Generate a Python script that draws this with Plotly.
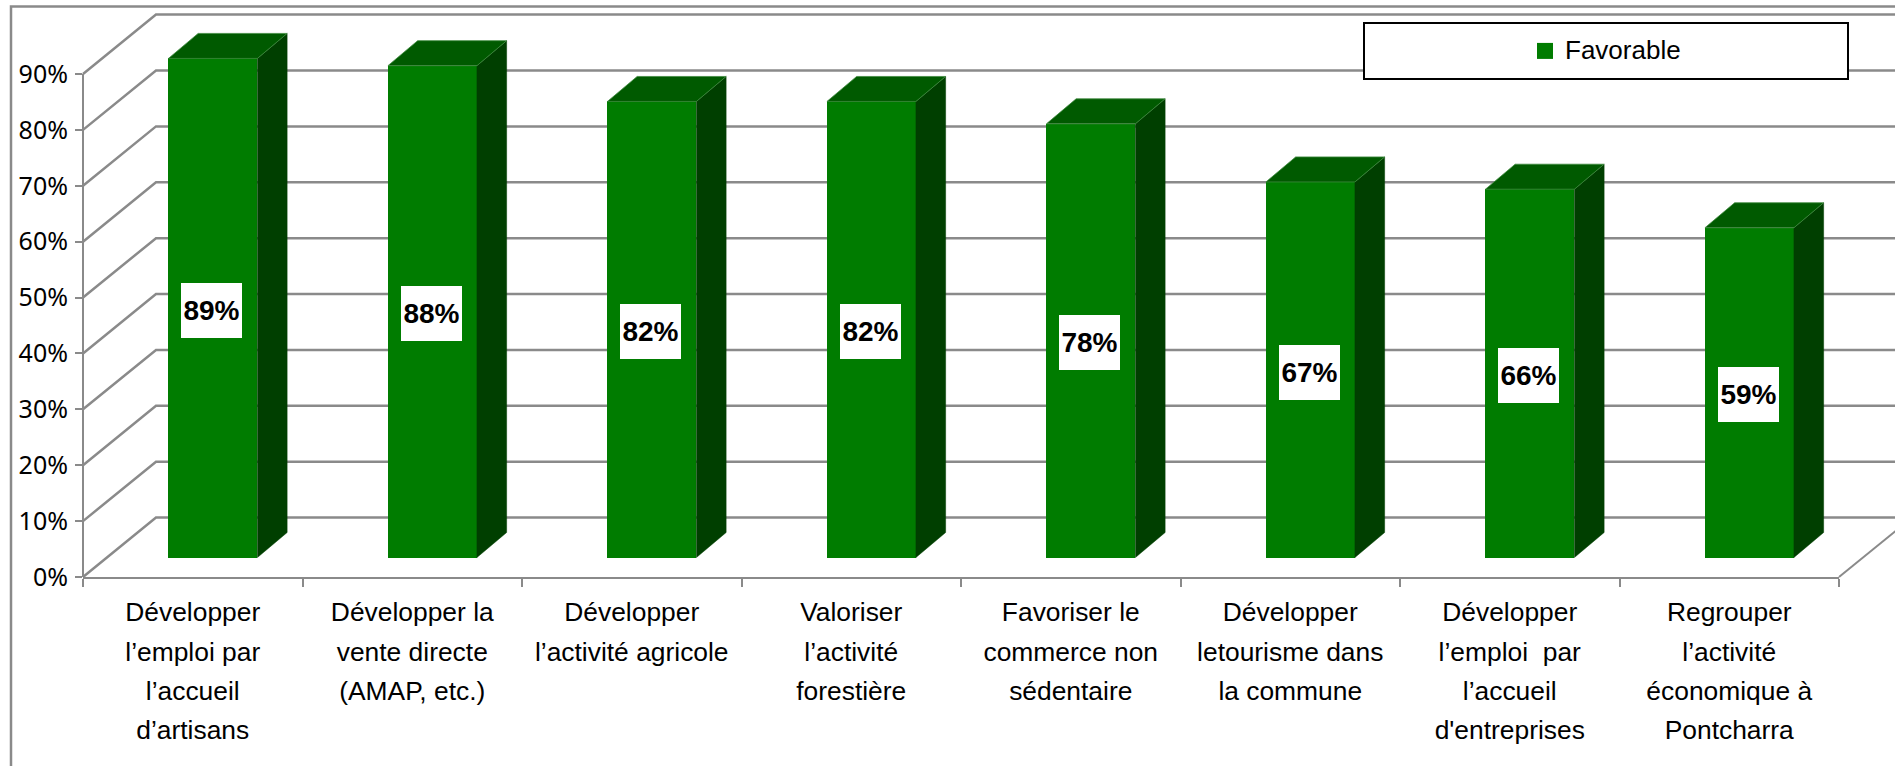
import plotly.graph_objects as go

# ---- data ----
categories = [
    ["Développer", "l’emploi par", "l’accueil", "d’artisans"],
    ["Développer la", "vente directe", "(AMAP, etc.)"],
    ["Développer", "l’activité agricole"],
    ["Valoriser", "l’activité", "forestière"],
    ["Favoriser le", "commerce non", "sédentaire"],
    ["Développer", "letourisme dans", "la commune"],
    ["Développer", "l’emploi&#160;&#160;par", "l’accueil", "d'entreprises"],
    ["Regrouper", "l’activité", "économique à", "Pontcharra"],
]
favorable = [89.3, 88.0, 81.6, 81.6, 77.6, 67.2, 65.9, 59.0]
y_ticks = [0, 10, 20, 30, 40, 50, 60, 70, 80, 90]
y_labels = ["0%", "10%", "20%", "30%", "40%", "50%", "60%", "70%", "80%", "90%"]
series_name = "Favorable"

# ---- style ----
W, H = 1895, 766
PX_L, PX_R, PX_B = 83, 1839, 577
GRID = "#8a8a8a"
FRONT, TOP, SIDE, EDGE = "#007c00", "#005a00", "#003f00", "#3f8a3f"
n = len(categories)
ux = (PX_R - PX_L) / n              # px per category
uy = (577 - 74) / 90                # px per percentage point
y_max = PX_B / uy                   # value at the top of the page
wall_dx, wall_dy = 73 / ux, 59.4 / uy
bar_dx, bar_dy = 29.7 / ux, 25 / uy
bar_base = 19.5 / uy
bar_w = 89 / ux
centers = [i + 0.592 for i in range(n)]

side_x, side_y, top_x, top_y = [], [], [], []
for c, v in zip(centers, favorable):
    l, r = c - bar_w / 2, c + bar_w / 2
    t = bar_base + v
    side_x += [r, r + bar_dx, r + bar_dx, r, r, None]
    side_y += [bar_base, bar_base + bar_dy, t + bar_dy, t, bar_base, None]
    top_x += [l, l + bar_dx, r + bar_dx, r, l, None]
    top_y += [t, t + bar_dy, t + bar_dy, t, t, None]

fig = go.Figure()
fig.add_bar(x=centers, y=favorable, base=bar_base, width=bar_w, marker=dict(color=FRONT, line=dict(width=0)),
            showlegend=False, cliponaxis=False, hoverinfo="skip")
fig.add_scatter(x=side_x, y=side_y, mode="lines", fill="toself", fillcolor=SIDE, line=dict(color=SIDE, width=0.5),
                showlegend=False, cliponaxis=False, hoverinfo="skip")
fig.add_scatter(x=top_x, y=top_y, mode="lines", fill="toself", fillcolor=TOP, line=dict(color=EDGE, width=0.8),
                showlegend=False, cliponaxis=False, hoverinfo="skip")
fig.add_scatter(x=[None], y=[None], mode="markers",
                name=f'<span style="font-size:26px;baseline-shift:4.5px">{series_name}</span>',
                marker=dict(symbol="square", size=16, color=FRONT))

# back-wall gridlines (paper coordinates so they are not clipped to the plot area)
shapes = []
def px(x): return x / n
def py(v): return v / y_max
for t in y_ticks:
    shapes.append(dict(type="path", xref="paper", yref="paper", layer="below", line=dict(color=GRID, width=2.5),
                       path=f"M {px(0)} {py(t)} L {px(wall_dx)} {py(t + wall_dy)} L {px(n + wall_dx)} {py(t + wall_dy)}"))
# right floor edge
shapes.append(dict(type="line", xref="paper", yref="paper", layer="below", line=dict(color=GRID, width=2),
                   x0=px(n), y0=py(0), x1=px(n + wall_dx), y1=py(wall_dy)))
# front value axis, up to the last tick
shapes.append(dict(type="line", xref="paper", yref="paper", layer="below", line=dict(color=GRID, width=2),
                   x0=0, y0=py(0), x1=0, y1=py(90)))
# outer frame
shapes.append(dict(type="rect", xref="paper", yref="paper", layer="below", line=dict(color=GRID, width=2.5),
                   x0=(11 - PX_L) / (PX_R - PX_L), x1=(W + 40 - PX_L) / (PX_R - PX_L),
                   y0=(PX_B - H - 40) / PX_B, y1=(PX_B - 6.5) / PX_B))

# value labels
annotations = [dict(x=c, y=bar_base + v / 2, xref="x", yref="y", text=f"<b>{round(v)}%</b>", showarrow=False,
                    bgcolor="white", width=61, height=55, align="center", valign="middle", borderwidth=0, borderpad=0,
                    xshift=-1, yshift=-2.3, font=dict(family="Liberation Sans", size=28, color="black"))
               for c, v in zip(centers, favorable)]

ticktext = ["<br>".join(f'<span style="font-size:26.4px">{s}</span>' for s in lines) for lines in categories]

fig.update_layout(
    width=W, height=H, autosize=False, paper_bgcolor="white", plot_bgcolor="rgba(0,0,0,0)",
    margin=dict(l=PX_L, r=W - PX_R, t=0, b=H - PX_B, pad=0, autoexpand=False),
    shapes=shapes, annotations=annotations, bargap=0,
    xaxis=dict(range=[0, n], showgrid=False, zeroline=False, showline=True, linecolor=GRID, linewidth=2,
               tickmode="array", tickvals=[i + 0.5 for i in range(n)], ticktext=ticktext, tickangle=0,
               ticks="", ticklabelstandoff=6,
               tickfont=dict(family="Liberation Sans", size=30.2, color="black"),
               minor=dict(tickmode="array", tickvals=list(range(n + 1)), ticks="outside", ticklen=8, tickwidth=2,
                          tickcolor=GRID, showgrid=False)),
    yaxis=dict(range=[0, y_max], showgrid=False, zeroline=False, showline=False,
               tickmode="array", tickvals=y_ticks, ticktext=y_labels, ticks="outside", ticklen=7, tickwidth=2,
               tickcolor=GRID, tickfont=dict(family="Noto Sans", size=25, color="black"), ticklabelstandoff=2),
    legend=dict(x=(1363 - PX_L) / (PX_R - PX_L), y=(PX_B - 22) / PX_B, xanchor="left", yanchor="top",
                orientation="h",
                bgcolor="white", bordercolor="black", borderwidth=2, indentation=160,
                entrywidth=277, entrywidthmode="pixels",
                font=dict(family="Liberation Sans", size=31.4, color="black")),
    hovermode=False,
)

fig.write_html("out.html", post_script="document.body.style.margin='0';", config={"displayModeBar": False})
